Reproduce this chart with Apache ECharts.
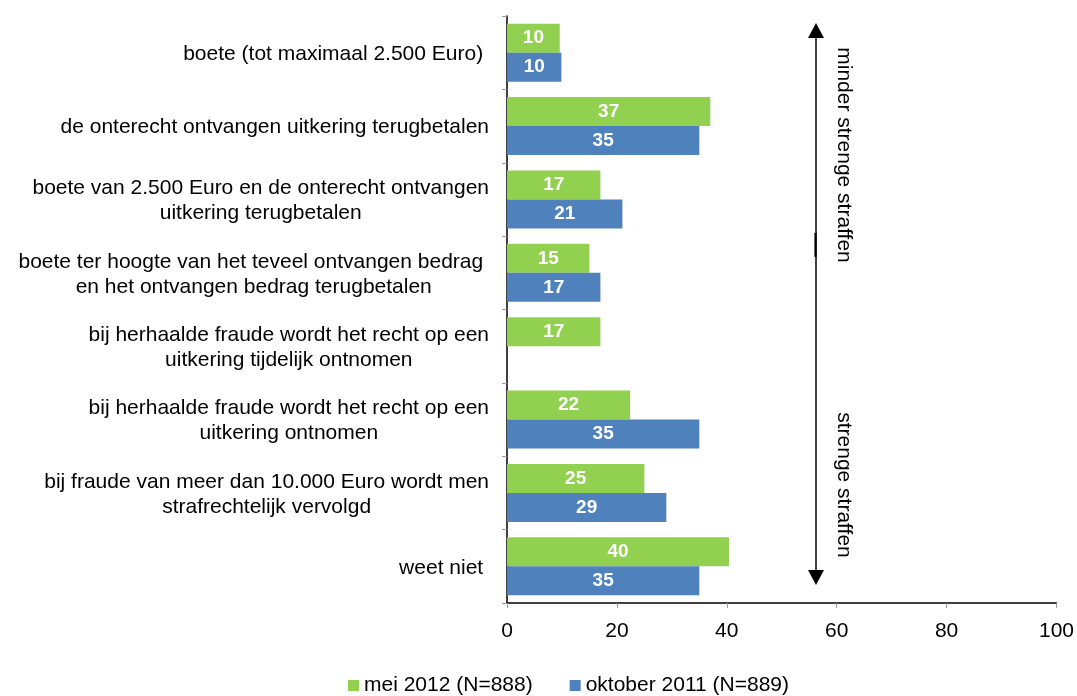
<!DOCTYPE html>
<html>
<head>
<meta charset="utf-8">
<script src="https://cdn.jsdelivr.net/npm/echarts@6/dist/echarts.min.js"></script>
<style>
    html, body { margin: 0; padding: 0; background: #fff; }
    #chart { width: 1077px; height: 696px; }
</style>
</head>
<body>
<div id="chart"></div>
<script>
    var categories = [
        'boete (tot maximaal 2.500 Euro) ',
        'de onterecht ontvangen uitkering terugbetalen',
        'boete van 2.500 Euro en de onterecht ontvangen\nuitkering terugbetalen',
        'boete ter hoogte van het teveel ontvangen bedrag \nen het ontvangen bedrag terugbetalen',
        'bij herhaalde fraude wordt het recht op een\nuitkering tijdelijk ontnomen',
        'bij herhaalde fraude wordt het recht op een\nuitkering ontnomen',
        'bij fraude van meer dan 10.000 Euro wordt men\nstrafrechtelijk vervolgd',
        'weet niet '
    ];
    var mei2012 = [9.6, 37, 17, 15, 17, 22.4, 25, 40.4];
    var okt2011 = [9.9, 35, 21, 17, null, 35, 29, 35];
    var seriesNames = ['mei 2012 (N=888)', 'oktober 2011 (N=889)'];
    var xTicks = [0, 20, 40, 60, 80, 100];

    var font = 'Liberation Sans, Arial, Helvetica, sans-serif';
    var chart = echarts.init(document.getElementById('chart'));

    // label inside bar, rounded like the source
    var barLabel = {
        show: true,
        position: 'inside',
        color: '#fff',
        fontWeight: 'bold',
        fontSize: 19,
        fontFamily: font,
        formatter: function (p) { return Math.round(p.value); }
    };

    var option = {
        animation: false,
        textStyle: { fontFamily: font },
        grid: { left: 507, right: 20, top: 16, bottom: 93 },
        legend: {
            left: 348,
            top: 675,
            padding: 0,
            itemWidth: 11,
            itemHeight: 11,
            itemGap: 37,
            icon: 'rect',
            textStyle: { fontSize: 21, color: '#000', fontFamily: font },
            data: seriesNames
        },
        xAxis: {
            type: 'value',
            min: xTicks[0],
            max: xTicks[xTicks.length - 1],
            interval: 20,
            splitLine: { show: false },
            axisLine: { show: true, lineStyle: { color: '#000', width: 1.5 } },
            axisTick: { show: true, length: 5, lineStyle: { color: '#999' } },
            axisLabel: { fontSize: 21, color: '#000', margin: 18, fontFamily: font }
        },
        yAxis: {
            type: 'category',
            inverse: true,
            data: categories,
            axisLine: { show: true, lineStyle: { color: '#000', width: 1.5 } },
            axisTick: { show: true, length: 5, inside: false, alignWithLabel: false, lineStyle: { color: '#999' } },
            axisLabel: {
                margin: 18,
                align: 'right',
                color: '#000',
                fontSize: 21,
                lineHeight: 25,
                padding: [3, 0, 0, 0],
                fontFamily: font,
                formatter: function (v) {
                    return v.split('\n').map(function (s) { return '{c|' + s + '}'; }).join('\n');
                },
                rich: {
                    c: { align: 'center', fontSize: 21, lineHeight: 25, color: '#000', fontFamily: font }
                }
            }
        },
        series: [
            {
                name: seriesNames[0],
                type: 'bar',
                barWidth: 29,
                barGap: '0%',
                itemStyle: { color: '#92D050' },
                label: barLabel,
                data: mei2012
            },
            {
                name: seriesNames[1],
                type: 'bar',
                barWidth: 29,
                barGap: '0%',
                itemStyle: { color: '#4F81BD' },
                label: barLabel,
                data: okt2011
            }
        ],
        graphic: [
            // double-headed arrow on the right
            { type: 'line', shape: { x1: 816, y1: 34, x2: 816, y2: 574 }, style: { stroke: '#000', lineWidth: 1.5 } },
            { type: 'line', shape: { x1: 815.5, y1: 233, x2: 815.5, y2: 257 }, style: { stroke: '#000', lineWidth: 2.2 } },
            { type: 'polygon', shape: { points: [[816, 23], [808, 38], [824, 38]] }, style: { fill: '#000' } },
            { type: 'polygon', shape: { points: [[816, 585], [808, 570], [824, 570]] }, style: { fill: '#000' } },
            {
                type: 'text', x: 844, y: 155, rotation: -Math.PI / 2,
                style: { text: 'minder strenge straffen', fontSize: 21, fontFamily: font, fill: '#000', align: 'center', verticalAlign: 'middle' }
            },
            {
                type: 'text', x: 844, y: 485, rotation: -Math.PI / 2,
                style: { text: 'strenge straffen', fontSize: 21, fontFamily: font, fill: '#000', align: 'center', verticalAlign: 'middle' }
            }
        ]
    };

    chart.setOption(option);
</script>
</body>
</html>
